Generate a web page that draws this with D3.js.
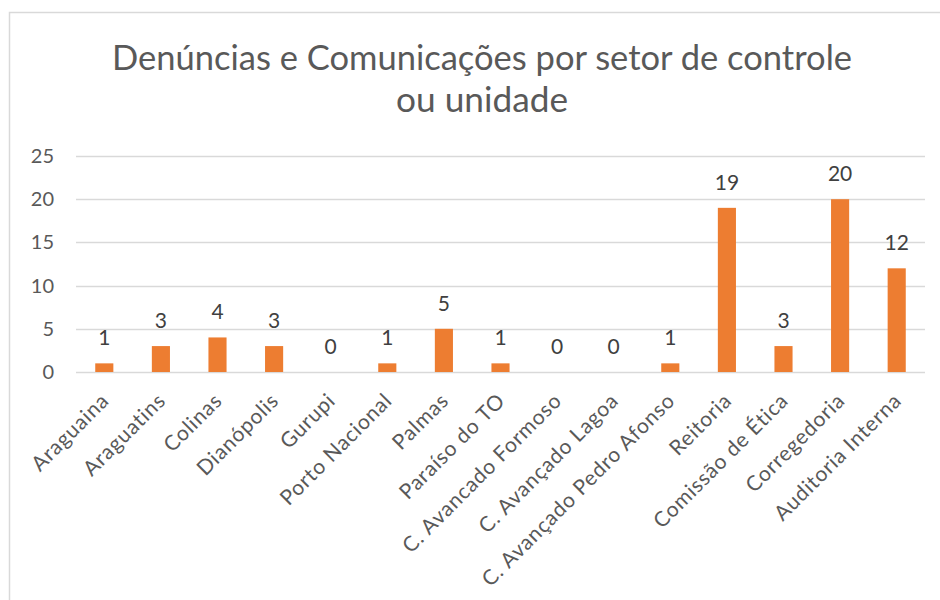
<!DOCTYPE html>
<html>
<head>
<meta charset="utf-8">
<script src="https://cdn.jsdelivr.net/npm/d3@7"></script>
<style>
  body { margin: 0; background: #fff; }
  svg text { font-family: Lato, "Open Sans", sans-serif; }
</style>
</head>
<body>
<div id="chart"></div>
<script>
var categories = ["Araguaina", "Araguatins", "Colinas", "Dianópolis", "Gurupi",
  "Porto Nacional", "Palmas", "Paraíso do TO", "C. Avancado Formoso",
  "C. Avançado Lagoa", "C. Avançado Pedro Afonso", "Reitoria",
  "Comissão de Ética", "Corregedoria", "Auditoria Interna"];
var values = [1, 3, 4, 3, 0, 1, 5, 1, 0, 0, 1, 19, 3, 20, 12];
var yTicks = [0, 5, 10, 15, 20, 25];
var titleLines = ["Denúncias e Comunicações por setor de controle", "ou unidade"];

var width = 940, height = 600;
var svg = d3.select("#chart").append("svg")
  .attr("width", width)
  .attr("height", height);

// chart frame
svg.append("path")
  .attr("d", "M9.5,600 V12.5 H940")
  .attr("fill", "none")
  .attr("stroke", "#d9d9d9")
  .attr("stroke-width", 1.5);

var x = d3.scaleBand()
  .domain(categories)
  .range([76, 925])
  .paddingInner(0.68)
  .paddingOuter(0.34);

var y = d3.scaleLinear()
  .domain([0, 25])
  .range([372, 156]);

// grid
svg.append("g")
  .selectAll("line")
  .data(yTicks)
  .enter()
  .append("line")
    .attr("x1", 76)
    .attr("x2", 925)
    .attr("y1", function(d) { return Math.round(y(d)) + 0.5; })
    .attr("y2", function(d) { return Math.round(y(d)) + 0.5; })
    .attr("stroke", "#d9d9d9")
    .attr("stroke-width", 1.3);

// y axis labels
var yAxis = svg.append("g")
  .attr("transform", "translate(54,0)")
  .call(d3.axisLeft(y).tickValues(yTicks).tickSize(0).tickPadding(0));
yAxis.select(".domain").remove();
yAxis.selectAll("text")
  .attr("font-size", 20)
  .attr("fill", "#595959")
  .style("font-family", "Lato, 'Open Sans', sans-serif");

// bars
svg.append("g")
  .selectAll("rect")
  .data(values)
  .enter()
  .append("rect")
    .attr("x", function(d, i) { return x(categories[i]); })
    .attr("width", x.bandwidth())
    .attr("y", function(d) { return y(d); })
    .attr("height", function(d) { return y(0) - y(d); })
    .attr("fill", "#ED7D31");

// value labels
svg.append("g")
  .selectAll("text")
  .data(values)
  .enter()
  .append("text")
    .attr("x", function(d, i) { return x(categories[i]) + x.bandwidth() / 2; })
    .attr("y", function(d) { return y(d) - 18; })
    .attr("text-anchor", "middle")
    .attr("font-size", 21)
    .attr("fill", "#404040")
    .text(function(d) { return d; });

// x axis labels
var xAxis = svg.append("g")
  .attr("transform", "translate(0,372)")
  .call(d3.axisBottom(x).tickSize(0).tickPadding(0));
xAxis.select(".domain").remove();
xAxis.selectAll("text")
  .attr("font-size", 21)
  .attr("letter-spacing", 0.8)
  .attr("fill", "#595959")
  .style("font-family", "Lato, 'Open Sans', sans-serif")
  .attr("text-anchor", "end")
  .attr("dy", 0)
  .attr("transform", "translate(6,30) rotate(-45)");

// title
svg.append("g")
  .selectAll("text")
  .data(titleLines)
  .enter()
  .append("text")
    .attr("x", 482)
    .attr("y", function(d, i) { return 70 + i * 42; })
    .attr("text-anchor", "middle")
    .attr("font-size", 35)
    .attr("fill", "#595959")
    .attr("textLength", function(d, i) { return i === 0 ? 740 : 172; })
    .attr("lengthAdjust", "spacingAndGlyphs")
    .text(function(d) { return d; });
</script>
</body>
</html>
